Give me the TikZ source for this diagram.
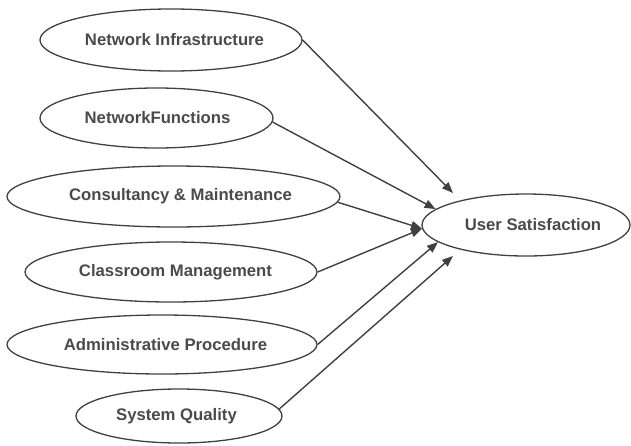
\documentclass[tikz,border=0pt]{standalone}
\usepackage{fontspec}
\setmainfont{Liberation Sans}
\usetikzlibrary{shapes.geometric,arrows.meta}
\definecolor{inkline}{HTML}{404040}
\definecolor{inktext}{HTML}{4A4A4A}
\begin{document}
\begin{tikzpicture}[x=1pt,y=-1pt,
  construct/.style={ellipse,draw=inkline,line width=1.3pt,inner sep=0pt},
  caption/.style={text=inktext,font=\fontsize{16.7}{20}\selectfont\bfseries},
  path/.style={draw=inkline,line width=1.4pt,-{Triangle[length=11pt,width=8.5pt]}}]
  \useasboundingbox (0,0) rectangle (631,445);

  % predictor constructs
  \node[construct,minimum width=262pt,minimum height=62pt] (ni) at (171,40) {};
  \node[caption] (niT) at (174.5,40) {Network Infrastructure};
  \node[construct,minimum width=233pt,minimum height=60pt] (nf) at (156.5,118) {};
  \node[caption] (nfT) at (157.5,118) {NetworkFunctions};
  \node[construct,minimum width=333pt,minimum height=61pt] (cm) at (173.5,196.5) {};
  \node[caption] (cmT) at (180.5,196.5) {Consultancy \& Maintenance};
  \node[construct,minimum width=292pt,minimum height=60pt] (cr) at (171,272) {};
  \node[caption] (crT) at (175.5,272) {Classroom Management};
  \node[construct,minimum width=310pt,minimum height=59pt] (ap) at (162,344.5) {};
  \node[caption] (apT) at (165.5,344.5) {Administrative Procedure};
  \node[construct,minimum width=206pt,minimum height=54pt] (sq) at (179,416) {};
  \node[caption] (sqT) at (176.5,416) {System Quality};

  % outcome construct
  \node[construct,minimum width=208pt,minimum height=62pt] (us) at (526,225) {};
  \node[caption] (usT) at (533,225) {User Satisfaction};

  % free arrow tips above and below the outcome
  \coordinate (tipA) at (453,193);
  \coordinate (tipF) at (453,256);

  \draw[path] (ni.east) -- (tipA);
  \draw[path] (nf.-2) -- (us.170);
  \draw[path] (cm.-2) -- (us.182);
  \draw[path] (cr.east) -- (us.182);
  \draw[path] (ap.east) -- (us.191);
  \draw[path] (sq.4) -- (tipF);
\end{tikzpicture}
\end{document}
